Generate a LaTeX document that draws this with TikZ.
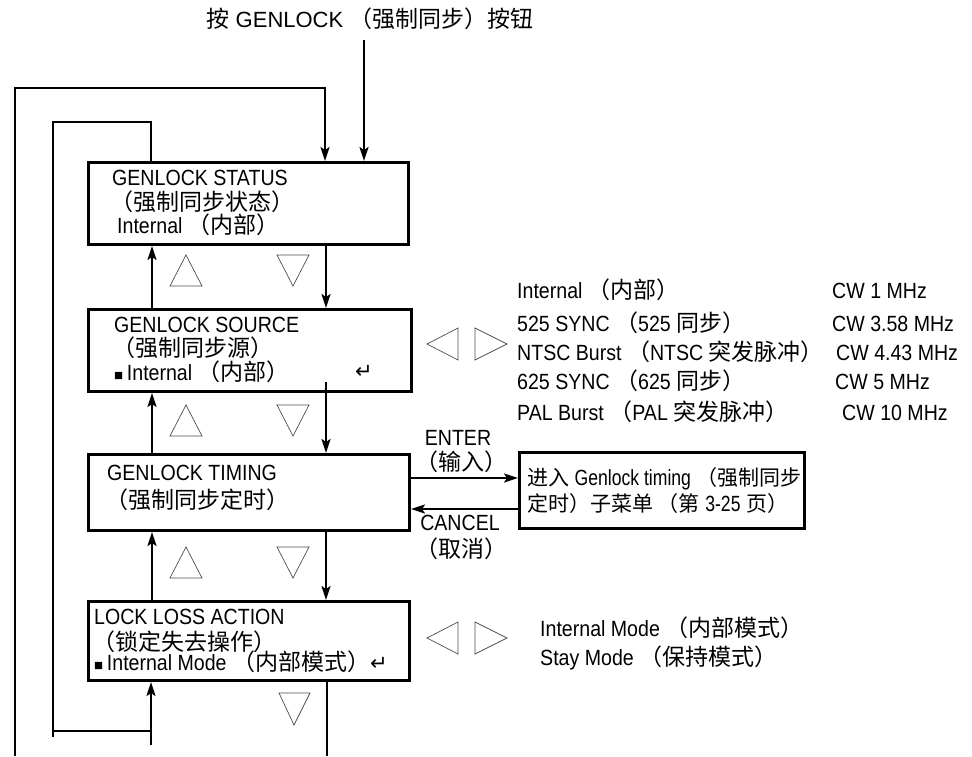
\documentclass[tikz,border=0pt]{standalone}
\usepackage{fontspec}
\setmainfont{Liberation Sans}[FakeStretch=0.89]
\newfontfamily\widefont{Liberation Sans}
\newfontfamily\narrowfont{Liberation Sans}[FakeStretch=0.8]
\newfontfamily\cjk{Noto Sans CJK SC}
\newfontfamily\symfont{DejaVu Sans}
\usetikzlibrary{arrows.meta}
\newcommand\zh[1]{{\cjk\fontsize{23}{26}\selectfont #1}}
\newcommand\zhs[1]{{\cjk\fontsize{21}{26}\selectfont #1}}
\newcommand\retsym{{\symfont\fontsize{21}{21}\selectfont ↵}}
\newcommand\sqsym{{\widefont\fontsize{15}{15}\selectfont ■}}
\tikzset{
  box/.style={draw, line width=3pt, inner sep=0pt, anchor=north west},
  txt/.style={anchor=base west, inner sep=0pt, font=\fontsize{22}{26}\selectfont},
  ctxt/.style={anchor=base, inner sep=0pt, font=\fontsize{22}{26}\selectfont},
  conn/.style={line width=2pt},
  arr/.style={line width=2pt, -{Stealth[length=14pt,width=9pt,inset=3pt]}},
  tri/.style={draw=black!70, line width=0.7pt, line join=miter}
}
\begin{document}
\begin{tikzpicture}[x=1pt,y=-1pt]
\useasboundingbox (0,0) rectangle (972,756);
% boxes
\node[box, minimum width=320pt, minimum height=82pt] (gs) at (87,161) {};
\node[box, minimum width=323pt, minimum height=82pt] (gsrc) at (87,308) {};
\node[box, minimum width=321pt, minimum height=76pt] (gt) at (87,453) {};
\node[box, minimum width=321pt, minimum height=79pt] (lla) at (87,600) {};
\node[box, minimum width=285pt, minimum height=76pt] (sub) at (518,451) {};
% reference columns
\coordinate (L) at (152,0);
\coordinate (R) at (326,0);
\coordinate (T) at (364,0);
% title
\node[ctxt, font=\widefont\fontsize{22}{26}\selectfont] (title) at (370,27) {\zh{按} GENLOCK \zh{（强制同步）按钮}};
\coordinate (tstart) at (364,40);
\draw[arr] (tstart) -- (gs.north -| T);
% box texts
\node[txt] (gs1) at (112,185) {GENLOCK STATUS};
\node[txt] (gs2) at (110,210) {\zh{（强制同步状态）}};
\node[txt] (gs3) at (117,233) {Internal \zh{（内部）}};
\node[txt] (sr1) at (114,332) {GENLOCK SOURCE};
\node[txt] (sr2) at (112,356) {\zh{（强制同步源）}};
\node[txt] (sr3) at (114,380) {\sqsym\,Internal \zh{（内部）}};
\node[txt] (sr4) at (355,378) {\retsym};
\node[txt] (gt1) at (107,480) {GENLOCK TIMING};
\node[txt] (gt2) at (105,508) {\zh{（强制同步定时）}};
\node[txt] (ll1) at (94,624) {LOCK LOSS ACTION};
\node[txt] (ll2) at (92,650) {\zh{（锁定失去操作）}};
\node[txt] (ll3) at (94,670) {\sqsym\,Internal Mode \zh{（内部模式）}\retsym};
\node[txt] (sb1) at (527,485) {\zhs{进入} {\narrowfont Genlock timing} \zhs{（强制同步}};
\node[txt] (sb2) at (527,511) {\zhs{定时）子菜单 （第} {\narrowfont 3-25} \zhs{页）}};
% enter / cancel
\node[ctxt] (en1) at (458,445) {ENTER};
\node[ctxt] (en2) at (461,470) {\zh{（输入）}};
\node[ctxt] (ca1) at (460,530) {CANCEL};
\node[ctxt] (ca2) at (461,557) {\zh{（取消）}};
\draw[arr] (gt.east |- 0,478) -- (sub.west |- 0,478);
\draw[arr] (sub.west |- 0,509) -- (gt.east |- 0,509);
% source options
\node[txt] (o1) at (517,298) {Internal \zh{（内部）}};
\node[txt] (o2) at (517,331) {525 SYNC \zh{（}525 \zh{同步）}};
\node[txt] (o3) at (517,360) {NTSC Burst \zh{（}NTSC \zh{突发脉冲）}};
\node[txt] (o4) at (517,389) {625 SYNC \zh{（}625 \zh{同步）}};
\node[txt] (o5) at (517,420) {PAL Burst \zh{（}PAL \zh{突发脉冲）}};
\node[txt] (c1) at (832,298) {CW 1 MHz};
\node[txt] (c2) at (832,331) {CW 3.58 MHz};
\node[txt] (c3) at (836,360) {CW 4.43 MHz};
\node[txt] (c4) at (835,389) {CW 5 MHz};
\node[txt] (c5) at (842,420) {CW 10 MHz};
% lla options
\node[txt] (m1) at (540,636) {Internal Mode \zh{（内部模式）}};
\node[txt] (m2) at (540,665) {Stay Mode \zh{（保持模式）}};
% vertical connectors
\draw[arr] (gsrc.north -| L) -- (gs.south -| L);
\draw[arr] (gt.north -| L) -- (gsrc.south -| L);
\draw[arr] (lla.north -| L) -- (gt.south -| L);
\draw[arr] (gs.south -| R) -- (gsrc.north -| R);
\coordinate (srcin) at (326,382);
\draw[arr] (srcin) -- (gt.north -| R);
\draw[arr] (gt.south -| R) -- (lla.north -| R);
\coordinate (botR) at (327,756);
\draw[conn] (lla.south -| botR) -- (botR);
% outer loop
\coordinate (o0) at (15,756);
\coordinate (o1c) at (15,88);
\coordinate (o2c) at (325,88);
\draw[arr] (o0) -- (o1c) -- (o2c) -- (gs.north -| o2c);
% inner loop
\coordinate (i1) at (151,122);
\coordinate (i2) at (53,122);
\coordinate (i3) at (53,737);
\draw[conn] (gs.north -| i1) -- (i1) -- (i2) -- (i3);
\coordinate (i4) at (53,731);
\coordinate (i5) at (151,731);
\draw[conn] (i4) -- (i5);
\coordinate (i6) at (151,745);
\draw[arr] (i6) -- (lla.south -| i6);
% triangles up/down
\foreach \y in {255,405,547}{
  \draw[tri] (170,\y+31) -- (186,\y) -- (202,\y+31) -- cycle;
  \draw[tri] (277,\y) -- (309,\y) -- (293,\y+31) -- cycle;
}
\draw[tri] (279,693) -- (310,693) -- (294,725) -- cycle;
% left/right triangles
\foreach \y in {328,622}{
  \draw[tri] (458,\y) -- (427,\y+16) -- (458,\y+32) -- cycle;
  \draw[tri] (475,\y) -- (507,\y+16) -- (475,\y+32) -- cycle;
}
\end{tikzpicture}
\end{document}
